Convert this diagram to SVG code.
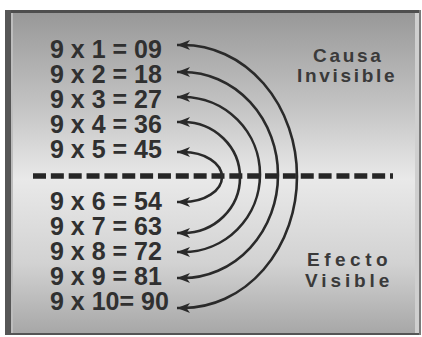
<svg xmlns="http://www.w3.org/2000/svg" width="422" height="337" viewBox="0 0 422 337">
  <defs>
    <linearGradient id="bg" x1="0" y1="0" x2="0" y2="1">
      <stop offset="0" stop-color="#979797"/>
      <stop offset="0.3" stop-color="#c4c4c4"/>
      <stop offset="0.52" stop-color="#e9e9e9"/>
      <stop offset="0.78" stop-color="#d2d2d2"/>
      <stop offset="1" stop-color="#a6a6a6"/>
    </linearGradient>
    <marker id="ah" viewBox="0 0 13 10" refX="13" refY="5" markerWidth="13" markerHeight="10" markerUnits="userSpaceOnUse" orient="auto-start-reverse">
      <path d="M0,0 L13,5 L0,10 L3.5,5 z" fill="#2a2a2a"/>
    </marker>
  </defs>
  <style>
    .eq { font-family: "Liberation Sans", Arial, sans-serif; font-weight: bold; font-size: 25px; fill: #303030; }
    .lbl { font-family: "Liberation Sans", Arial, sans-serif; font-weight: bold; font-size: 19px; fill: #3a3a3a; }
    .arc { fill: none; stroke: #2a2a2a; stroke-width: 2.6; marker-start: url(#ah); marker-end: url(#ah); }
    .dash { stroke: #262626; stroke-width: 5.5; stroke-dasharray: 13 4.85; }
  </style>
  <rect x="0" y="0" width="422" height="337" fill="#ffffff"/>
  <g id="frame">
    <rect x="5" y="10" width="416" height="325" fill="url(#bg)"/>
    <rect x="5" y="10" width="416" height="3" fill="#4e4e4e"/>
    <rect x="5" y="10" width="6" height="325" fill="#565656"/>
    <rect x="11" y="13" width="2" height="320" fill="#bdbdbd"/>
    <rect x="5" y="333" width="416" height="2" fill="#555555"/>
    <rect x="415" y="13" width="4" height="320" fill="#cfcfcf"/>
    <rect x="419" y="10" width="2" height="325" fill="#7a7a7a"/>
  </g>
  <g id="connectors">
    <line class="dash" x1="33" y1="176" x2="393" y2="176"/>
    <path class="arc" d="M177,152 L183,152 A39,25 0 0 1 183,202 L177,202"/>
    <path class="arc" d="M177,122 L183,122 A57,55.5 0 0 1 183,233 L177,233"/>
    <path class="arc" d="M177,97 L183,97 A77,77.5 0 0 1 183,252 L177,252"/>
    <path class="arc" d="M177,72 L183,72 A95,103 0 0 1 183,278 L177,278"/>
    <path class="arc" d="M177,45 L183,45 A114,131.5 0 0 1 183,308 L177,308"/>
  </g>
  <g id="row1"><text class="eq" x="50" y="58">9 x 1 = 09</text></g>
  <g id="row2"><text class="eq" x="50" y="83">9 x 2 = 18</text></g>
  <g id="row3"><text class="eq" x="50" y="108">9 x 3 = 27</text></g>
  <g id="row4"><text class="eq" x="50" y="133">9 x 4 = 36</text></g>
  <g id="row5"><text class="eq" x="50" y="158">9 x 5 = 45</text></g>
  <g id="row6"><text class="eq" x="50" y="210">9 x 6 = 54</text></g>
  <g id="row7"><text class="eq" x="50" y="235">9 x 7 = 63</text></g>
  <g id="row8"><text class="eq" x="50" y="260">9 x 8 = 72</text></g>
  <g id="row9"><text class="eq" x="50" y="285">9 x 9 = 81</text></g>
  <g id="row10"><text class="eq" x="50" y="310">9 x 10= 90</text></g>
  <g id="causa">
    <text class="lbl" x="313" y="62" letter-spacing="2.7">Causa</text>
    <text class="lbl" x="297" y="82" letter-spacing="2.7">Invisible</text>
  </g>
  <g id="efecto">
    <text class="lbl" x="307" y="266" letter-spacing="4.5">Efecto</text>
    <text class="lbl" x="305" y="287" letter-spacing="3.9">Visible</text>
  </g>
</svg>
